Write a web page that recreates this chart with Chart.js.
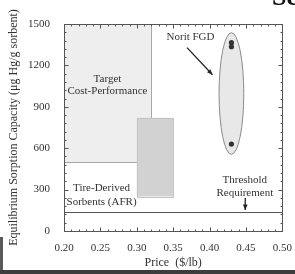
<!DOCTYPE html>
<html><head><meta charset="utf-8">
<script src="https://cdn.jsdelivr.net/npm/chart.js@4/dist/chart.umd.min.js"></script>
<style>
html,body{margin:0;padding:0;background:#fff;overflow:hidden}
#wrap{position:relative;width:295px;height:274px}
canvas{position:absolute;left:0;top:0}
#se{position:absolute;left:272px;top:-18px;font:bold 26px "Liberation Serif",serif;color:#111;white-space:nowrap}
#lb{position:absolute;left:0;top:237px;width:3px;height:37px;background:#5a5a5a}
#bb{position:absolute;left:0;top:270px;width:295px;height:4px;background:#3c3c3c}
</style></head>
<body><div id="wrap"><canvas id="c" width="295" height="274"></canvas><div id="se">Se</div><div id="lb"></div><div id="bb"></div></div>
<script>
// ---- data ----
const priceTicks = [0.20, 0.25, 0.30, 0.35, 0.40, 0.45, 0.50];
const capacityTicks = [0, 300, 600, 900, 1200, 1500];
const noritPrice = [0.43, 0.43, 0.43];
const noritCapacity = [1365, 1335, 630];
const targetPrice = [0.20, 0.32];
const targetCapacity = [500, 1500];
const tirePrice = [0.30, 0.35];
const tireCapacity = [250, 820];
const ellipsePrice = [0.413, 0.447];
const ellipseCapacity = [555, 1437];
const thresholdCapacity = 135;
const noritArrowPrice = [0.369, 0.404];
const noritArrowCapacity = [1329, 1132];
const thresholdArrowPrice = [0.449, 0.449];
const thresholdArrowCapacity = [240, 152];
const labelTexts = [["Target", "Cost-Performance"], ["Norit FGD"], ["Tire-Derived", "Sorbents (AFR)"], ["Threshold", "Requirement"]];
const labelPrice = [0.2597, 0.3738, 0.2516, 0.4484];
const labelCapacity = [[1103, 1017], [1406], [310, 211], [368, 276]];

const SERIF = '"Liberation Serif", "DejaVu Serif", serif';

function arrow(ctx, x1, y1, x2, y2, head) {
  ctx.beginPath(); ctx.moveTo(x1, y1); ctx.lineTo(x2, y2); ctx.stroke();
  const a = Math.atan2(y2 - y1, x2 - x1);
  ctx.beginPath();
  ctx.moveTo(x2, y2);
  ctx.lineTo(x2 - head * Math.cos(a - 0.4), y2 - head * Math.sin(a - 0.4));
  ctx.lineTo(x2 - head * Math.cos(a + 0.4), y2 - head * Math.sin(a + 0.4));
  ctx.closePath(); ctx.fill();
}

const shapes = {
  id: 'shapes',
  beforeDatasetsDraw(chart) {
    const ctx = chart.ctx, xs = chart.scales.x, ys = chart.scales.y;
    const X = v => xs.getPixelForValue(v), Y = v => ys.getPixelForValue(v);
    ctx.save();
    // target region
    ctx.fillStyle = '#eeeeee';
    ctx.fillRect(X(targetPrice[0]), Y(targetCapacity[1]), X(targetPrice[1]) - X(targetPrice[0]), Y(targetCapacity[0]) - Y(targetCapacity[1]));
    ctx.strokeStyle = '#a8a8a8'; ctx.lineWidth = 1;
    ctx.beginPath();
    ctx.moveTo(Math.round(X(targetPrice[1])) + 0.5, Y(targetCapacity[1]));
    ctx.lineTo(Math.round(X(targetPrice[1])) + 0.5, Math.round(Y(targetCapacity[0])) + 0.5);
    ctx.lineTo(X(targetPrice[0]), Math.round(Y(targetCapacity[0])) + 0.5);
    ctx.stroke();
    // tire rect
    ctx.fillStyle = '#d2d2d2';
    ctx.fillRect(X(tirePrice[0]), Y(tireCapacity[1]), X(tirePrice[1]) - X(tirePrice[0]), Y(tireCapacity[0]) - Y(tireCapacity[1]));
    ctx.strokeStyle = '#c4c4c4';
    ctx.strokeRect(Math.round(X(tirePrice[0])) + 0.5, Math.round(Y(tireCapacity[1])) + 0.5, Math.round(X(tirePrice[1]) - X(tirePrice[0])), Math.round(Y(tireCapacity[0]) - Y(tireCapacity[1])));
    // ellipse
    const cx = (X(ellipsePrice[0]) + X(ellipsePrice[1])) / 2, cy = (Y(ellipseCapacity[0]) + Y(ellipseCapacity[1])) / 2;
    const rx = (X(ellipsePrice[1]) - X(ellipsePrice[0])) / 2, ry = (Y(ellipseCapacity[0]) - Y(ellipseCapacity[1])) / 2;
    ctx.beginPath(); ctx.ellipse(cx, cy, rx, ry, 0, 0, Math.PI * 2);
    ctx.fillStyle = '#e8e8e8'; ctx.fill();
    ctx.strokeStyle = '#8a8a8a'; ctx.lineWidth = 1; ctx.stroke();
    // threshold line
    ctx.strokeStyle = '#555'; ctx.lineWidth = 1;
    const ty = Math.round(Y(thresholdCapacity)) + 0.5;
    ctx.beginPath(); ctx.moveTo(xs.left, ty); ctx.lineTo(xs.right, ty); ctx.stroke();
    // arrows
    ctx.strokeStyle = '#222'; ctx.fillStyle = '#222'; ctx.lineWidth = 1.3;
    arrow(ctx, X(noritArrowPrice[0]), Y(noritArrowCapacity[0]), X(noritArrowPrice[1]), Y(noritArrowCapacity[1]), 6);
    arrow(ctx, X(thresholdArrowPrice[0]), Y(thresholdArrowCapacity[0]), X(thresholdArrowPrice[1]), Y(thresholdArrowCapacity[1]), 6);
    // labels
    ctx.fillStyle = '#333'; ctx.font = '11px ' + SERIF; ctx.textAlign = 'center'; ctx.textBaseline = 'middle';
    labelTexts.forEach((lines, i) => lines.forEach((t, j) => ctx.fillText(t, X(labelPrice[i]), Y(labelCapacity[i][j]))));
    ctx.restore();
  },
  afterDraw(chart) {
    const ctx = chart.ctx, xs = chart.scales.x, ys = chart.scales.y;
    const L = Math.round(xs.left) + 0.5, R = Math.round(xs.right) + 0.5, T = Math.round(ys.top) + 0.5, B = Math.round(ys.bottom) + 0.5;
    ctx.save();
    ctx.strokeStyle = '#555'; ctx.lineWidth = 1;
    ctx.strokeRect(L, T, R - L, B - T);
    ctx.beginPath();
    for (let k = 0; k <= 30; k++) {
      const v = 0.2 + k * 0.01;
      const px = Math.round(xs.getPixelForValue(v)) + 0.5;
      const len = (k % 5 === 0) ? 4 : 2;
      ctx.moveTo(px, B); ctx.lineTo(px, B - len);
      ctx.moveTo(px, T); ctx.lineTo(px, T + len);
    }
    for (let k = 0; k <= 25; k++) {
      const v = k * 60;
      const py = Math.round(ys.getPixelForValue(v)) + 0.5;
      const len = (k % 5 === 0) ? 4 : 2;
      ctx.moveTo(L, py); ctx.lineTo(L + len, py);
      ctx.moveTo(R, py); ctx.lineTo(R - len, py);
    }
    ctx.stroke();
    ctx.restore();
  }
};

new Chart(document.getElementById('c'), {
  type: 'scatter',
  data: {
    datasets: [{
      data: noritPrice.map((p, i) => ({x: p, y: noritCapacity[i]})),
      pointRadius: 2.6, pointBackgroundColor: '#333', pointBorderColor: '#333', pointBorderWidth: 0
    }]
  },
  options: {
    responsive: false, animation: false, devicePixelRatio: 1,
    layout: {padding: {top: 24, right: 10, left: 0, bottom: 0}},
    plugins: {legend: {display: false}, tooltip: {enabled: false}},
    scales: {
      x: {
        type: 'linear', min: 0.2, max: 0.5,
        afterBuildTicks: s => { s.ticks = priceTicks.map(v => ({value: v})); },
        afterFit: s => { s.height = 43; },
        grid: {display: false}, border: {display: false},
        ticks: {padding: 3, color: '#333', font: {family: SERIF, size: 11}, callback: v => Number(v).toFixed(2), maxRotation: 0, autoSkip: false},
        title: {display: true, text: 'Price  ($/lb)', color: '#333', font: {family: SERIF, size: 12}, padding: {top: 0, bottom: 4}}
      },
      y: {
        type: 'linear', min: 0, max: 1500,
        afterBuildTicks: s => { s.ticks = capacityTicks.map(v => ({value: v})); },
        afterFit: s => { s.width = 64; },
        grid: {display: false}, border: {display: false},
        ticks: {padding: 6, color: '#333', font: {family: SERIF, size: 11}, callback: v => String(v), autoSkip: false},
        title: {display: true, text: 'Equilibrium Sorption Capacity (\u03bcg Hg/g sorbent)', color: '#333', font: {family: SERIF, size: 12}, padding: {top: 7, bottom: 0}}
      }
    }
  },
  plugins: [shapes]
});
</script>
</body></html>
